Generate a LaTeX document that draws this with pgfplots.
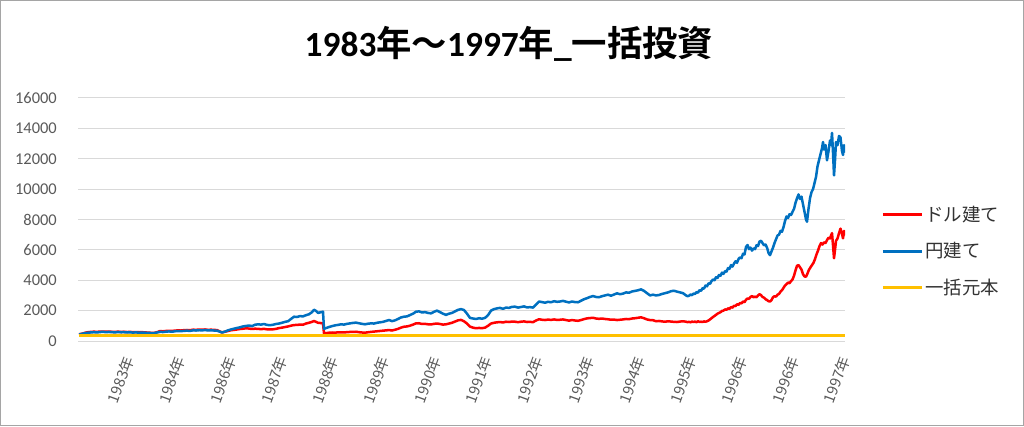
\documentclass[border=0pt]{standalone}
\usepackage{pgfplots}
\usepackage{pgfplotstable}
\pgfplotsset{compat=1.18}
\usepackage{fontspec}
\setmainfont{Carlito}
\newfontfamily\cjk[BoldFont={Noto Sans CJK JP Bold}]{Noto Sans CJK JP}
\definecolor{exred}{RGB}{255,0,0}
\definecolor{exblue}{RGB}{0,112,192}
\definecolor{exgold}{RGB}{255,192,0}
\definecolor{gridc}{RGB}{217,217,217}
\definecolor{tickc}{RGB}{89,89,89}
\definecolor{framec}{RGB}{165,165,165}

\pgfplotstableread{
x y
79 430
82 470
85 520
88 545
91 565
94 580
97 560
100 590
103 600
106 585
109 595
112 580
115 570
118 590
121 575
124 580
127 560
130 570
133 555
136 565
139 550
142 560
145 545
148 535
151 525
154 520
157 560
160 600
163 590
166 615
169 630
172 610
175 640
178 655
181 645
184 670
187 680
190 665
193 700
196 690
199 710
202 700
205 720
208 695
211 705
214 690
217 680
220 610
222 560
225 620
228 700
231 760
234 810
237 860
240 900
243 960
246 990
249 1020
252 980
255 1070
258 1100
261 1080
264 1120
267 1060
270 1040
273 1070
276 1120
279 1150
282 1200
285 1260
288 1300
291 1450
294 1600
297 1580
300 1640
303 1620
306 1700
309 1760
312 1900
314 2060
316 1980
318 1850
321 1900
323 1930
324 800
326 850
329 920
332 980
335 1030
338 1060
341 1100
344 1080
347 1130
350 1160
353 1190
356 1210
359 1170
362 1130
365 1100
368 1140
371 1160
374 1150
377 1200
380 1230
383 1260
386 1320
389 1380
392 1310
395 1360
398 1450
401 1550
404 1600
407 1620
410 1710
413 1800
416 1930
419 1950
422 1880
425 1900
428 1850
431 1820
434 1920
437 2000
440 1900
443 1800
446 1720
449 1800
452 1850
455 1950
458 2050
461 2100
464 2040
467 1800
470 1520
473 1480
476 1450
479 1500
482 1470
485 1520
488 1700
491 2000
494 2100
497 2150
500 2180
503 2120
506 2200
509 2180
512 2250
515 2260
518 2200
521 2240
524 2280
527 2210
530 2230
533 2200
536 2400
539 2600
542 2560
545 2520
548 2580
551 2550
554 2620
557 2580
560 2600
563 2640
566 2590
569 2540
572 2600
575 2560
578 2550
581 2650
584 2750
587 2820
590 2900
593 2960
596 2900
599 2880
602 2950
605 3000
608 3050
611 2980
614 3060
617 3140
620 3080
623 3120
626 3200
629 3180
632 3260
635 3300
638 3340
641 3400
644 3300
647 3150
650 3000
653 3050
656 3000
659 3030
662 3100
665 3150
668 3200
671 3280
674 3310
677 3250
680 3200
683 3150
686 3000
687.5 2950
689 2980
690.5 3060
692 3020
693.5 3120
695 3100
696.5 3220
698 3180
699.5 3350
701 3300
702.5 3480
704 3450
705.5 3650
707 3600
708.5 3800
710 3760
711.5 3950
713 4050
714.5 4000
716 4200
717.5 4150
719 4350
720.5 4300
722 4500
723.5 4420
725 4600
726.5 4560
728 4800
729.5 4750
731 5000
732.5 4900
734 5100
735.5 5250
737 5150
738.5 5400
740 5500
741.5 5450
743 5750
744.5 5700
746 6200
747.5 6320
749 6050
750.5 6150
752 5950
753.5 6100
755 6050
756.5 6300
758 6250
759.5 6550
761 6600
762.5 6450
764 6300
765.5 6350
767 6150
768.5 5800
770 5650
771.5 5900
773 6150
774.5 6450
776 6700
777.5 6950
779 7000
780.5 7250
782 7200
783.5 7500
785 7900
786.5 8200
788 8100
789.5 8350
791 8300
792.5 8500
794 8700
795.5 9100
797 9400
798.5 9650
800 9350
801.5 9500
803 9000
804.5 8500
806 8000
807 7850
808.5 8700
810 9400
811.5 9800
813 10000
814.5 10400
816 10800
817.5 11500
819 11900
820.5 12300
822 12700
823 13100
824 12600
825.5 12900
827 11900
828.5 12500
830 13200
831 12900
832 13700
833 12400
834 10900
835 11900
836 13100
837.5 12900
839 13500
840.5 13400
842 12500
843 12250
844 12900
845 12400
}\blueyen

\pgfplotstableread{
x y
79 440
82 480
85 540
88 580
91 600
94 615
97 600
100 625
103 620
106 610
109 625
112 605
115 600
118 615
121 600
124 610
127 590
130 600
133 585
136 590
139 575
142 585
145 565
148 555
151 540
154 530
157 580
160 650
163 640
166 660
169 675
172 660
175 685
178 700
181 690
184 715
187 725
190 710
193 745
196 735
199 755
202 740
205 760
208 735
211 745
214 730
217 720
220 620
222 570
225 610
228 660
231 710
234 730
237 760
240 790
243 810
246 835
249 820
252 790
255 810
258 800
261 780
264 800
267 770
270 760
273 770
276 800
279 850
282 880
285 920
288 960
291 1010
294 1050
297 1060
300 1080
303 1070
306 1150
309 1200
312 1260
314 1320
316 1260
318 1200
321 1180
323 1160
324 505
326 520
329 545
332 560
335 550
338 570
341 575
344 560
347 585
350 595
353 600
356 610
359 580
362 560
365 550
368 575
371 600
374 620
377 640
380 660
383 680
386 700
389 720
392 690
395 740
398 800
401 880
404 940
407 960
410 1010
413 1080
416 1160
419 1170
422 1120
425 1130
428 1100
431 1090
434 1130
437 1150
440 1120
443 1080
446 1100
449 1150
452 1200
455 1280
458 1360
461 1390
464 1300
467 1150
470 950
473 880
476 840
479 860
482 845
485 880
488 1000
491 1150
494 1200
497 1230
500 1250
503 1220
506 1270
509 1250
512 1280
515 1270
518 1240
521 1270
524 1290
527 1250
530 1260
533 1240
536 1350
539 1430
542 1400
545 1380
548 1410
551 1390
554 1420
557 1390
560 1400
563 1420
566 1380
569 1340
572 1380
575 1350
578 1330
581 1380
584 1440
587 1490
590 1510
593 1530
596 1480
599 1460
602 1480
605 1450
608 1430
611 1400
614 1410
617 1380
620 1400
623 1420
626 1450
629 1440
632 1480
635 1500
638 1530
641 1560
644 1500
647 1420
650 1380
653 1370
656 1300
659 1320
662 1290
665 1270
668 1300
671 1280
674 1260
677 1250
680 1280
683 1300
686 1270
687.5 1240
689 1260
690.5 1230
692 1280
693.5 1250
695 1280
696.5 1240
698 1300
699.5 1260
701 1270
702.5 1250
704 1290
705.5 1270
707 1300
708.5 1350
710 1420
711.5 1500
713 1580
714.5 1650
716 1720
717.5 1800
719 1850
720.5 1900
722 1980
723.5 2000
725 2080
726.5 2060
728 2150
729.5 2120
731 2230
732.5 2200
734 2320
735.5 2300
737 2420
738.5 2380
740 2500
741.5 2480
743 2600
744.5 2560
746 2720
747.5 2800
749 2780
750.5 2900
752 2960
753.5 2880
755 2920
756.5 2880
758 3000
759.5 3080
761 3020
762.5 2900
764 2850
765.5 2750
767 2700
768.5 2620
770 2600
771.5 2700
773 2880
774.5 2950
776 2920
777.5 3050
779 3100
780.5 3250
782 3350
783.5 3500
785 3650
786.5 3750
788 3850
789.5 3800
791 3950
792.5 4050
794 4300
795.5 4650
797 4950
798.5 5000
800 4850
801.5 4700
803 4400
804.5 4250
806 4230
807.5 4450
809 4700
810.5 4850
812 5000
813.5 5150
815 5400
816.5 5700
818 5950
819.5 6250
821 6450
822.5 6350
824 6500
825.5 6450
827 6650
828.5 6800
830 6750
831 6950
832 7100
833 6300
834 5450
835 6000
836 6600
837.5 6750
839 7100
840.5 7400
842 7050
843 6760
844 7250
845 6950
}\reddollar

\pgfplotstableread{
x y
79 380
845 380
}\principal

\begin{document}
\begin{tikzpicture}[x=1bp,y=1bp]
\path[use as bounding box] (0,0) rectangle (1024,426);
\draw[framec, line width=1bp] (0.5,0.5) rectangle (1023.5,425.5);
\node[font=\fontsize{35.5}{38}\selectfont\bfseries, inner sep=0pt] at (509,382)
  {1983{\cjk\bfseries 年～}1997{\cjk\bfseries 年}\_{\cjk\bfseries 一括投資}};
\begin{axis}[
  at={(78bp,85bp)}, anchor=south west,
  scale only axis, width=767bp, height=243bp,
  xmin=78, xmax=845, ymin=0, ymax=16000,
  axis line style={draw=none},
  tick style={draw=none},
  ymajorgrids, grid style={gridc, line width=1bp},
  ytick={0,2000,4000,6000,8000,10000,12000,14000,16000},
  scaled y ticks=false,
  /pgf/number format/.cd, 1000 sep={}, assume math mode=true,
  /pgfplots/.cd,
  yticklabel style={font=\fontsize{16.5}{16.5}\selectfont, text=tickc, inner sep=0pt, anchor=east, xshift=-21bp},
  xtick={129.13,180.27,231.4,282.53,333.67,384.8,435.93,487.07,538.2,589.33,640.47,691.6,742.73,793.87,845},
  xticklabels={1983年,1984年,1986年,1987年,1988年,1989年,1990年,1991年,1992年,1993年,1994年,1995年,1996年,1996年,1997年},
  xticklabel style={font=\cjk\fontsize{15}{15}\selectfont, text=tickc, inner sep=0pt, yshift=-16bp, rotate=70, anchor=east},
  legend style={at={(1.047,0.37)}, anchor=west, draw=none, fill=none,
    font=\cjk\fontsize{18.5}{18.5}\selectfont, row sep=16bp, inner sep=0pt,
    nodes={text=black!80}},
  legend cell align=left,
  legend image code/.code={\draw[#1, line width=3bp] (0bp,0bp) -- (39bp,0bp);},
]
\addplot[exred, line width=2.5bp, line join=round] table {\reddollar};
\addlegendentry{ドル建て}
\addplot[exblue, line width=2.5bp, line join=round] table {\blueyen};
\addlegendentry{円建て}
\addplot[exgold, line width=3bp] table {\principal};
\addlegendentry{一括元本}
\end{axis}
\end{tikzpicture}
\end{document}
